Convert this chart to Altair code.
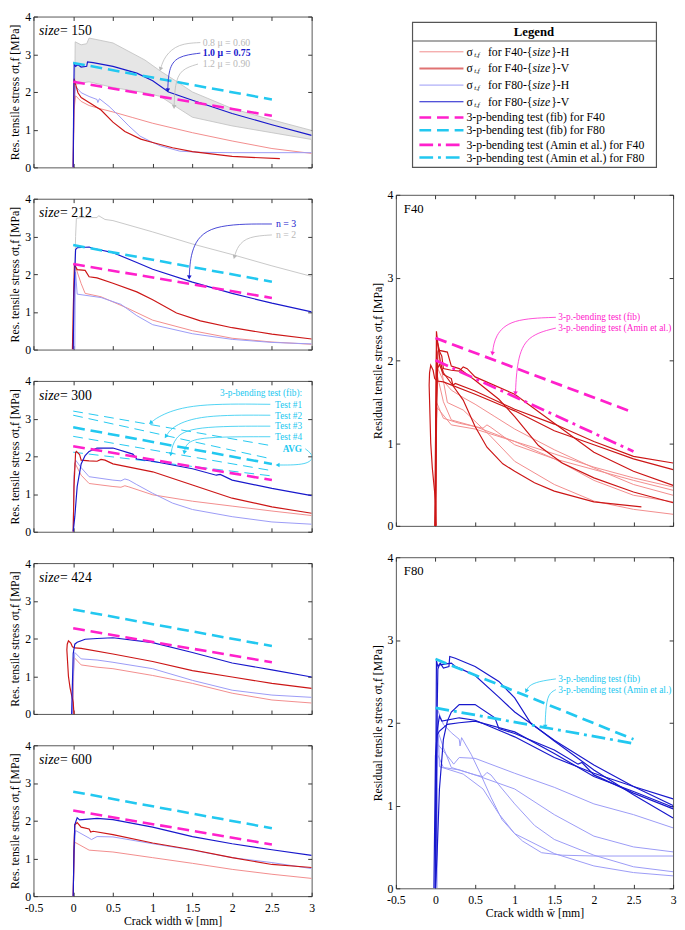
import math
import altair as alt
import pandas as pd

FONT = "Liberation Serif"

X_TICKS = [-0.5, 0, 0.5, 1, 1.5, 2, 2.5, 3]
Y_TICKS = [0, 1, 2, 3, 4]
SIZES = ["150", "212", "300", "424", "600"]

# ---------------- size 150 ----------------
F40H_150_X = [0.0, 0.01, 0.03, 0.1, 0.2, 0.35, 0.5, 0.75, 1.0, 1.5, 2.0, 2.5, 3.0]
F40H_150_Y = [0.0, 1.5, 1.9, 1.75, 1.64, 1.55, 1.47, 1.32, 1.17, 0.92, 0.70, 0.50, 0.37]
F40V_150_X = [0.0, 0.005, 0.012, 0.03, 0.06, 0.1, 0.2, 0.35, 0.5, 0.65, 0.85, 1.0, 1.25, 1.5, 2.0, 2.6]
F40V_150_Y = [0.0, 1.2, 2.35, 2.2, 1.98, 1.85, 1.72, 1.52, 1.2, 0.95, 0.75, 0.66, 0.52, 0.42, 0.29, 0.23]
F80H_150_X = [0.0, 0.01, 0.03, 0.1, 0.2, 0.3, 0.31, 0.33, 0.45, 0.56, 0.7, 0.84, 1.0, 1.1, 1.34, 1.6, 2.0, 3.0]
F80H_150_Y = [0.0, 1.6, 2.15, 1.98, 1.88, 1.8, 1.72, 1.82, 1.62, 1.40, 1.1, 0.83, 0.66, 0.57, 0.43, 0.40, 0.39, 0.39]
F80V_150_X = [0.0, 0.005, 0.012, 0.03, 0.06, 0.1, 0.17, 0.18, 0.25, 0.5, 0.8, 1.0, 1.2, 1.5, 2.0, 2.5, 3.0]
F80V_150_Y = [0.0, 1.5, 2.75, 2.68, 2.72, 2.66, 2.68, 2.8, 2.78, 2.68, 2.5, 2.3, 2.0, 1.78, 1.43, 1.13, 0.85]
BAND_150_X = [0.02, 0.025, 0.1, 0.17, 0.2, 0.5, 0.9, 1.1, 1.3, 1.5, 2.0, 2.5, 3.0]
BAND_150_HI = [2.2, 3.33, 3.25, 3.28, 3.43, 3.3, 2.85, 2.55, 2.28, 2.0, 1.56, 1.26, 0.98]
BAND_150_LO = [2.2, 2.2, 2.22, 2.26, 2.27, 2.12, 1.98, 1.88, 1.6, 1.33, 1.1, 0.92, 0.74]

# ---------------- size 212 ----------------
F40H_212_X = [0.0, 0.01, 0.02, 0.1, 0.15, 0.35, 0.68, 1.0, 1.5, 2.0, 2.5, 3.0]
F40H_212_Y = [0.0, 1.6, 2.25, 1.75, 1.49, 1.4, 1.1, 0.78, 0.5, 0.3, 0.2, 0.14]
F40V_212_X = [-0.01, 0.0, 0.015, 0.03, 0.05, 0.15, 0.2, 0.3, 0.5, 0.8, 1.0, 1.3, 1.6, 2.0, 2.5, 3.0]
F40V_212_Y = [0.0, 1.0, 2.25, 2.2, 2.12, 2.1, 1.93, 1.9, 1.76, 1.53, 1.32, 0.97, 0.76, 0.58, 0.41, 0.28]
F80H_212_X = [0.02, 0.025, 0.03, 0.05, 0.35, 0.6, 0.8, 1.0, 1.5, 2.0, 2.5, 3.0]
F80H_212_Y = [0.0, 1.5, 2.05, 1.47, 1.38, 1.2, 0.9, 0.66, 0.42, 0.27, 0.19, 0.15]
F80V_212_X = [0.0, 0.01, 0.03, 0.05, 0.2, 0.25, 0.3, 0.5, 0.8, 1.0, 1.5, 2.0, 2.5, 3.0]
F80V_212_Y = [0.0, 1.5, 2.65, 2.7, 2.72, 2.68, 2.66, 2.57, 2.31, 2.13, 1.79, 1.49, 1.23, 1.0]
N2_212_X = [0.02, 0.03, 0.04, 0.1, 0.3, 0.32, 0.4, 0.5, 1.0, 1.5, 2.0, 2.5, 3.0]
N2_212_Y = [2.0, 3.0, 3.48, 3.5, 3.5, 3.55, 3.45, 3.42, 3.12, 2.8, 2.52, 2.22, 1.94]

# ---------------- size 300 ----------------
F40H_300_X = [0.0, 0.01, 0.02, 0.1, 0.2, 0.5, 0.6, 0.65, 0.7, 1.0, 1.5, 2.0, 2.5, 3.0]
F40H_300_Y = [0.0, 1.4, 1.83, 1.5, 1.28, 1.2, 1.18, 1.22, 1.19, 0.98, 0.81, 0.68, 0.55, 0.43]
F40V_300_X = [0.0, 0.01, 0.03, 0.04, 0.08, 0.1, 0.2, 0.3, 0.35, 0.4, 0.5, 1.0, 1.5, 2.0, 2.5, 3.0]
F40V_300_Y = [0.0, 1.2, 2.1, 2.13, 2.05, 1.9, 1.88, 1.87, 1.92, 1.9, 1.8, 1.59, 1.24, 0.89, 0.66, 0.49]
F80H_300_X = [0.0, 0.01, 0.03, 0.1, 0.2, 0.5, 0.6, 0.65, 0.7, 0.8, 1.0, 1.25, 1.5, 2.0, 2.5, 3.0]
F80H_300_Y = [0.0, 1.5, 1.9, 1.7, 1.46, 1.37, 1.35, 1.4, 1.37, 1.25, 1.02, 0.76, 0.59, 0.4, 0.26, 0.2]
F80V_300_X = [0.0, 0.02, 0.05, 0.1, 0.15, 0.2, 0.3, 0.5, 0.75, 0.8, 1.0, 1.5, 1.8, 1.85, 2.0, 2.5, 3.0]
F80V_300_Y = [0.0, 0.4, 1.2, 1.8, 2.02, 2.13, 2.22, 2.22, 2.06, 1.93, 1.87, 1.67, 1.5, 1.52, 1.37, 1.15, 0.96]
TEST_X = [0.0, 2.5]
TEST1_Y = [3.20, 2.28]
TEST2_Y = [3.09, 1.93]
TEST3_Y = [2.53, 1.62]
TEST4_Y = [2.11, 1.48]

# ---------------- size 424 ----------------
F40H_424_X = [0.0, 0.005, 0.01, 0.1, 0.3, 0.5, 1.0, 1.5, 2.0, 2.5, 3.0]
F40H_424_Y = [0.0, 1.0, 1.5, 1.3, 1.24, 1.2, 1.02, 0.81, 0.55, 0.37, 0.29]
F40V_424_X = [0.01, 0.0, -0.02, -0.04, -0.06, -0.08, -0.075, -0.06, -0.03, -0.01, 0.02, 0.1, 0.5, 1.0, 1.5, 2.0, 2.5, 3.0]
F40V_424_Y = [0.0, 0.3, 0.5, 0.7, 1.0, 1.7, 1.85, 1.94, 1.88, 1.78, 1.75, 1.74, 1.59, 1.39, 1.15, 0.98, 0.81, 0.68]
F80H_424_X = [-0.01, 0.0, 0.02, 0.1, 0.3, 0.5, 1.0, 1.5, 2.0, 2.5, 3.0]
F80H_424_Y = [0.0, 1.0, 1.63, 1.46, 1.43, 1.37, 1.2, 0.89, 0.63, 0.5, 0.44]
F80V_424_X = [-0.02, -0.01, 0.0, 0.02, 0.05, 0.15, 0.3, 0.5, 1.0, 1.5, 2.0, 2.5, 3.0]
F80V_424_Y = [0.0, 0.8, 1.6, 1.85, 1.9, 1.98, 2.0, 2.02, 1.89, 1.63, 1.35, 1.17, 0.98]

# ---------------- size 600 ----------------
F40H_600_X = [0.0, 0.01, 0.02, 0.2, 0.5, 1.0, 1.5, 2.0, 2.5, 3.0]
F40H_600_Y = [0.0, 1.0, 1.43, 1.22, 1.17, 1.02, 0.87, 0.71, 0.58, 0.47]
F40V_600_X = [0.0, 0.01, 0.02, 0.05, 0.1, 0.2, 0.22, 0.25, 0.5, 1.0, 1.5, 2.0, 2.5, 3.0]
F40V_600_Y = [0.0, 1.3, 1.89, 1.95, 1.83, 1.78, 1.7, 1.72, 1.63, 1.41, 1.23, 1.02, 0.84, 0.76]
F80H_600_X = [0.0, 0.01, 0.03, 0.2, 0.23, 0.3, 0.5, 1.0, 1.5, 2.0, 2.5, 3.0]
F80H_600_Y = [0.0, 1.2, 1.74, 1.54, 1.5, 1.58, 1.57, 1.39, 1.22, 1.02, 0.89, 0.73]
F80V_600_X = [0.0, 0.01, 0.02, 0.05, 0.08, 0.3, 0.5, 1.0, 1.5, 2.0, 2.5, 3.0]
F80V_600_Y = [0.0, 1.2, 1.9, 2.08, 2.02, 2.06, 2.03, 1.83, 1.58, 1.39, 1.23, 1.08]

# ---------------- 3-point bending references ----------------
REF_X = [0.0, 2.5]
FIB_F40_Y = [2.27, 1.37]
FIB_F80_Y = [2.77, 1.80]
AMIN_F40_Y = [2.00, 0.90]
AMIN_F80_Y = [2.18, 1.75]

CURVES = {
    "150": {"F40H": (F40H_150_X, F40H_150_Y), "F40V": (F40V_150_X, F40V_150_Y),
            "F80H": (F80H_150_X, F80H_150_Y), "F80V": (F80V_150_X, F80V_150_Y)},
    "212": {"F40H": (F40H_212_X, F40H_212_Y), "F40V": (F40V_212_X, F40V_212_Y),
            "F80H": (F80H_212_X, F80H_212_Y), "F80V": (F80V_212_X, F80V_212_Y)},
    "300": {"F40H": (F40H_300_X, F40H_300_Y), "F40V": (F40V_300_X, F40V_300_Y),
            "F80H": (F80H_300_X, F80H_300_Y), "F80V": (F80V_300_X, F80V_300_Y)},
    "424": {"F40H": (F40H_424_X, F40H_424_Y), "F40V": (F40V_424_X, F40V_424_Y),
            "F80H": (F80H_424_X, F80H_424_Y), "F80V": (F80V_424_X, F80V_424_Y)},
    "600": {"F40H": (F40H_600_X, F40H_600_Y), "F40V": (F40V_600_X, F40V_600_Y),
            "F80H": (F80H_600_X, F80H_600_Y), "F80V": (F80V_600_X, F80V_600_Y)},
}

# ---------------- styles / layout ----------------
C_F40H = "#f28b8b"
C_F40V = "#cc1616"
C_F80H = "#9a9af6"
C_F80V = "#1818cc"
C_MAG = "#ff20cc"
C_CYAN = "#22c8f0"
C_GRAY = "#b8b8b8"
STYLE = {"F40H": (C_F40H, 1.0), "F40V": (C_F40V, 1.2), "F80H": (C_F80H, 1.0), "F80V": (C_F80V, 1.2)}
DASH = [12, 6]
DASHDOT = [14, 5, 3, 5]

W_L, H_L = 284, 154
SP = 18
W_R = 283
H_R = 2 * H_L + 30
H_LEG = H_L + 2

XS = alt.Scale(domain=[-0.5, 3], nice=False, zero=False)
YS = alt.Scale(domain=[0, 4], nice=False, zero=False)

XTITLE = "Crack width w\u0304  [mm]"
YTITLE_L = "Res. tensile stress \u03c3t,f  [MPa]"
YTITLE_R = "Residual tensile stress \u03c3t,f  [MPa]"


def xy(df_x="x", df_y="y"):
    return dict(x=alt.X(f"{df_x}:Q", scale=XS, axis=None), y=alt.Y(f"{df_y}:Q", scale=YS, axis=None))


def line_layer(xs, ys, color, width, dash=None, interpolate=None):
    df = pd.DataFrame({"x": xs, "y": ys, "i": list(range(len(xs)))})
    mk = dict(color=color, strokeWidth=width, clip=True)
    if dash is not None:
        mk["strokeDash"] = dash
    if interpolate is not None:
        mk["interpolate"] = interpolate
    return alt.Chart(df).mark_line(**mk).encode(order="i:Q", **xy())


def text_layer(x, y, s, color, size=10, align="left", weight="normal", style="normal"):
    df = pd.DataFrame({"x": [x], "y": [y], "t": [s]})
    return alt.Chart(df).mark_text(color=color, fontSize=size, align=align, baseline="middle",
                                   fontWeight=weight, fontStyle=style, font=FONT).encode(
        text="t:N", **xy())


def arrow_layers(xs, ys, color, sx, sy):
    ln = line_layer(xs, ys, color, 0.8, interpolate="basis")
    dx = (xs[-1] - xs[-2]) * sx
    dy = (ys[-1] - ys[-2]) * sy
    ang = math.degrees(math.atan2(dx, dy)) % 360
    df = pd.DataFrame({"x": [xs[-1]], "y": [ys[-1]]})
    head = alt.Chart(df).mark_point(shape="triangle", filled=True, color=color, size=22,
                                    angle=ang, opacity=1, clip=True).encode(**xy())
    return [ln, head]


def frame_layers(xlabels, xtitle, ytitle):
    df = pd.DataFrame({"x": [-0.5, 3.0], "y": [0.0, 4.0]})
    common = dict(tickSize=4, offset=-4, domain=False, grid=False, tickColor="#333", tickWidth=1)
    bx = alt.Axis(orient="bottom", values=X_TICKS, labels=xlabels, labelExpr="'' + datum.value",
                  labelFlush=False, labelPadding=7, title=xtitle, titlePadding=2, **common)
    ly = alt.Axis(orient="left", values=Y_TICKS, labelPadding=3, title=ytitle, titlePadding=3, **common)
    a = alt.Chart(df).mark_point(opacity=0, size=1).encode(
        x=alt.X("x:Q", scale=XS, axis=bx), y=alt.Y("y:Q", scale=YS, axis=ly))
    tx = alt.Axis(orient="top", values=X_TICKS, labels=False, title=None, **common)
    ry = alt.Axis(orient="right", values=Y_TICKS, labels=False, title=None, **common)
    b = alt.Chart(df).mark_point(opacity=0, size=1).encode(
        x=alt.X("x:Q", scale=XS, axis=tx), y=alt.Y("y:Q", scale=YS, axis=ry))
    return [a, b]


SXL, SYL = W_L / 3.5, H_L / 4.0
SXR, SYR = W_R / 3.5, H_R / 4.0


def left_panel(size, last):
    layers = frame_layers(last, XTITLE if last else None, YTITLE_L)
    if size == "150":
        band = pd.DataFrame({"x": BAND_150_X, "hi": BAND_150_HI, "lo": BAND_150_LO})
        layers.append(alt.Chart(band).mark_area(color="#e6e6e6", clip=True).encode(
            x=alt.X("x:Q", scale=XS, axis=None), y=alt.Y("hi:Q", scale=YS, axis=None), y2="lo:Q"))
        layers.append(line_layer(BAND_150_X, BAND_150_HI, "#c4c4c4", 0.9))
        layers.append(line_layer(BAND_150_X, BAND_150_LO, "#c4c4c4", 0.9))
    if size == "212":
        layers.append(line_layer(N2_212_X, N2_212_Y, "#c8c8c8", 1.0))
    if size == "300":
        for ty in (TEST1_Y, TEST2_Y, TEST3_Y, TEST4_Y):
            layers.append(line_layer(TEST_X, ty, C_CYAN, 1.0, dash=[10, 6]))
    for key in ("F40H", "F80H", "F40V", "F80V"):
        cx, cy = CURVES[size][key]
        col, w = STYLE[key]
        layers.append(line_layer(cx, cy, col, w))
    layers.append(line_layer(REF_X, FIB_F40_Y, C_MAG, 2.6, dash=DASH))
    layers.append(line_layer(REF_X, FIB_F80_Y, C_CYAN, 2.6, dash=DASH))
    # size label
    layers.append(text_layer(-0.43, 3.61, "size", "black", size=14, style="italic"))
    layers.append(text_layer(-0.165, 3.61, "= " + size, "black", size=14))
    if size == "150":
        layers.append(text_layer(1.63, 3.31, "0.8 \u03bc = 0.60", C_GRAY, size=10))
        layers.append(text_layer(1.63, 3.03, "1.0 \u03bc = 0.75", C_F80V, size=10, weight="bold"))
        layers.append(text_layer(1.63, 2.74, "1.2 \u03bc = 0.90", C_GRAY, size=10))
        layers += arrow_layers([1.60, 1.32, 1.15, 1.10], [3.31, 3.28, 2.95, 2.62], C_GRAY, SXL, SYL)
        layers += arrow_layers([1.60, 1.30, 1.20, 1.19], [3.03, 2.95, 2.60, 2.06], C_F80V, SXL, SYL)
        layers += arrow_layers([1.57, 1.35, 1.28, 1.27], [2.74, 2.60, 2.20, 1.62], C_GRAY, SXL, SYL)
    if size == "212":
        layers.append(text_layer(2.55, 3.34, "n = 3", C_F80V, size=10))
        layers.append(text_layer(2.55, 3.04, "n = 2", C_GRAY, size=10))
        layers += arrow_layers([2.50, 1.70, 1.48, 1.46], [3.33, 3.33, 2.70, 1.93], C_F80V, SXL, SYL)
        layers += arrow_layers([2.50, 2.20, 2.07, 2.03], [3.04, 3.00, 2.75, 2.47], C_GRAY, SXL, SYL)
    if size == "300":
        for lab, yy, wt in (("3-p-bending test (fib):", 3.69, "normal"), ("Test #1", 3.37, "normal"),
                            ("Test #2", 3.08, "normal"), ("Test #3", 2.79, "normal"),
                            ("Test #4", 2.50, "normal"), ("AVG", 2.18, "bold")):
            layers.append(text_layer(2.88, yy, lab, C_CYAN, size=9.5, align="right", weight=wt))
        layers += arrow_layers([2.48, 1.50, 1.10, 0.98], [3.38, 3.40, 3.10, 2.90], C_CYAN, SXL, SYL)
        layers += arrow_layers([2.48, 1.60, 1.25, 1.17], [3.09, 3.10, 2.80, 2.54], C_CYAN, SXL, SYL)
        layers += arrow_layers([2.48, 1.50, 1.27, 1.23], [2.80, 2.80, 2.50, 2.07], C_CYAN, SXL, SYL)
        layers += arrow_layers([2.48, 1.60, 1.42, 1.40], [2.52, 2.52, 2.35, 2.12], C_CYAN, SXL, SYL)
        layers += arrow_layers([2.92, 3.04, 2.95, 2.58], [2.20, 2.00, 1.77, 1.77], C_CYAN, SXL, SYL)
    return alt.layer(*layers).resolve_axis(x="independent", y="independent").properties(
        width=W_L, height=H_L)


def right_panel(fam, last):
    layers = frame_layers(last, XTITLE if last else None, YTITLE_R)
    for key in (fam + "H", fam + "V"):
        col, w = STYLE[key]
        for size in SIZES:
            cx, cy = CURVES[size][key]
            layers.append(line_layer(cx, cy, col, w))
    col = C_MAG if fam == "F40" else C_CYAN
    fib = FIB_F40_Y if fam == "F40" else FIB_F80_Y
    amin = AMIN_F40_Y if fam == "F40" else AMIN_F80_Y
    layers.append(line_layer(REF_X, fib, col, 2.8, dash=DASH))
    layers.append(line_layer(REF_X, amin, col, 2.8, dash=DASHDOT))
    layers.append(text_layer(-0.40, 3.83, fam, "black", size=13))
    if fam == "F40":
        layers.append(text_layer(1.55, 2.52, "3-p.-bending test (fib)", col, size=9.5))
        layers.append(text_layer(1.55, 2.39, "3-p.-bending test (Amin et al.)", col, size=9.5))
        layers += arrow_layers([1.52, 0.95, 0.75, 0.72], [2.52, 2.50, 2.30, 2.09], col, SXR, SYR)
        layers += arrow_layers([1.52, 1.15, 1.03, 1.01], [2.39, 2.30, 2.00, 1.61], col, SXR, SYR)
    else:
        layers.append(text_layer(1.55, 2.53, "3-p.-bending test (fib)", col, size=9.5))
        layers.append(text_layer(1.55, 2.40, "3-p.-bending test (Amin et al.)", col, size=9.5))
        layers += arrow_layers([1.52, 1.30, 1.18, 1.15], [2.53, 2.50, 2.45, 2.39], col, SXR, SYR)
        layers += arrow_layers([1.52, 1.42, 1.39, 1.385], [2.40, 2.35, 2.15, 1.96], col, SXR, SYR)
    return alt.layer(*layers).resolve_axis(x="independent", y="independent").properties(
        width=W_R, height=H_R)


# ---------------- legend ----------------
LEG_ROWS_Y = [36, 53, 70, 87, 103, 116, 131, 144]
LEG_SIGMA = [("F40", "H", C_F40H, 1.0), ("F40", "V", "#e07272", 2.2),
             ("F80", "H", C_F80H, 1.0), ("F80", "V", C_F80V, 1.2)]
LEG_BEND = [("3-p-bending test (fib) for F40", C_MAG, DASH),
            ("3-p-bending test (fib) for F80", C_CYAN, DASH),
            ("3-p-bending test (Amin et al.) for F40", C_MAG, DASHDOT),
            ("3-p-bending test (Amin et al.) for F80", C_CYAN, DASHDOT)]
LXS = alt.Scale(domain=[0, W_R], nice=False, zero=False)
LYS = alt.Scale(domain=[0, H_LEG], nice=False, zero=False, reverse=True)


def lxy():
    return dict(x=alt.X("x:Q", scale=LXS, axis=None), y=alt.Y("y:Q", scale=LYS, axis=None))


def ltext(x, y, s, size=12, weight="normal", style="normal", align="left"):
    df = pd.DataFrame({"x": [x], "y": [y], "t": [s]})
    return alt.Chart(df).mark_text(font=FONT, fontSize=size, fontWeight=weight, fontStyle=style,
                                   align=align, baseline="middle", color="black").encode(text="t:N", **lxy())


def lrule(x1, x2, y, color, width, dash=None):
    df = pd.DataFrame({"x": [x1], "x2": [x2], "y": [y]})
    mk = dict(color=color, strokeWidth=width)
    if dash is not None:
        mk["strokeDash"] = dash
    return alt.Chart(df).mark_rule(**mk).encode(x2="x2:Q", **lxy())


box_df = pd.DataFrame({"x": [17], "x2": [266], "y": [6], "y2": [154]})
leg_layers = [alt.Chart(box_df).mark_rect(fill="white", stroke="#555", strokeWidth=1.2).encode(
    x2="x2:Q", y2="y2:Q", **lxy())]
leg_layers.append(lrule(17, 266, 25, "#555", 1.2))
leg_layers.append(ltext(141, 16, "Legend", size=13, weight="bold", align="center"))
for k, (fam, hv, col, w) in enumerate(LEG_SIGMA):
    yy = LEG_ROWS_Y[k]
    leg_layers.append(lrule(24, 69, yy, col, w))
    leg_layers.append(ltext(72, yy, "\u03c3"))
    leg_layers.append(ltext(80, yy + 3, "t,f", size=7, style="italic"))
    leg_layers.append(ltext(94, yy, "for " + fam + "-{"))
    leg_layers.append(ltext(139.5, yy, "size", style="italic"))
    leg_layers.append(ltext(158.5, yy, "}-" + hv))
for k, (lab, col, dsh) in enumerate(LEG_BEND):
    yy = LEG_ROWS_Y[4 + k]
    leg_layers.append(lrule(24, 69, yy, col, 2.6, dash=dsh))
    leg_layers.append(ltext(72, yy, lab))
legend = alt.layer(*leg_layers).properties(width=W_R, height=H_LEG,
                                            view=alt.ViewBackground(stroke="transparent"))

left = alt.vconcat(*[left_panel(s, s == "600") for s in SIZES], spacing=SP)
right = alt.vconcat(legend, right_panel("F40", False), right_panel("F80", True), spacing=SP)

chart = alt.hconcat(left, right, spacing=56,
                    padding={"top": -8, "left": 0, "right": 0, "bottom": 0}).configure(
    font=FONT).configure_axis(
    labelFont=FONT, titleFont=FONT, labelFontSize=12, titleFontSize=12, titleFontWeight="normal",
    labelColor="black", titleColor="black").configure_view(stroke="#555", strokeWidth=1)

chart.save("out.html", embed_options={"renderer": "svg", "actions": False})
